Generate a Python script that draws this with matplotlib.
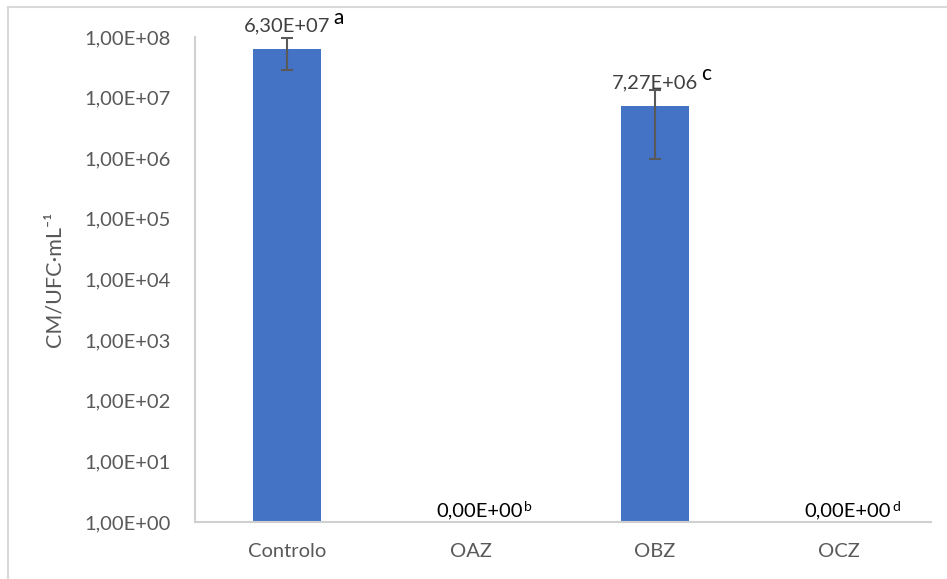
import matplotlib
matplotlib.use("Agg")
import matplotlib.pyplot as plt
from matplotlib.lines import Line2D

plt.rcParams['font.family'] = ['Lato', 'DejaVu Sans']

categories = ["Controlo", "OAZ", "OBZ", "OCZ"]
values = [6.30e7, 0.0, 7.27e6, 0.0]
errors = [3.4e7, 0.0, 6.3e6, 0.0]
value_labels = ["6,30E+07", "0,00E+00", "7,27E+06", "0,00E+00"]
letters = ["a", "b", "c", "d"]
yticks = [1e0, 1e1, 1e2, 1e3, 1e4, 1e5, 1e6, 1e7, 1e8]
ytick_labels = ["1,00E+00", "1,00E+01", "1,00E+02", "1,00E+03", "1,00E+04",
                "1,00E+05", "1,00E+06", "1,00E+07", "1,00E+08"]

W, H = 947, 579
fig = plt.figure(figsize=(W / 100, H / 100), dpi=100)
ax = fig.add_axes([195 / W, 1 - 522 / H, (931 - 195) / W, (522 - 37) / H])

bar_color = "#4472C4"
x = list(range(len(categories)))
for i, (v, e) in enumerate(zip(values, errors)):
    if v > 0:
        ax.bar(i, v, width=0.37, color=bar_color, zorder=2)
        ax.errorbar(i, v, yerr=e, fmt="none", ecolor="#595959", elinewidth=1.5,
                    capsize=4.5, capthick=1.5, zorder=3)

ax.set_yscale("log")
ax.set_ylim(1, 1e8)
ax.set_xlim(-0.5, len(categories) - 0.5)
ax.set_yticks(yticks)
ax.set_yticklabels(ytick_labels)
ax.yaxis.set_minor_locator(matplotlib.ticker.NullLocator())
ax.set_xticks(x)
ax.set_xticklabels(categories)
ax.tick_params(axis="both", length=0, labelsize=14.5, colors="#595959")
ax.tick_params(axis="y", pad=17.5)
ax.tick_params(axis="x", pad=15)

for s in ["top", "right"]:
    ax.spines[s].set_visible(False)
for s in ["left", "bottom"]:
    ax.spines[s].set_color("#D0D0D0")
    ax.spines[s].set_linewidth(1.5)

ax.set_ylabel("CM/UFC·mL⁻¹", fontsize=15.5, color="#595959", labelpad=14)

fig.canvas.draw()
renderer = fig.canvas.get_renderer()
inv = fig.transFigure.inverted()

for i, v in enumerate(values):
    if v > 0:
        t = ax.annotate(value_labels[i], (i, v), xytext=(0, 17), textcoords="offset points",
                        ha="center", va="center", fontsize=14.5, color="#404040")
        bb = t.get_window_extent(renderer)
        fx, fy = inv.transform((bb.x1 + 3, (bb.y0 + bb.y1) / 2 + 8))
        fig.text(fx, fy, letters[i], ha="left", va="center", fontsize=15, color="black")
    else:
        t = ax.annotate(value_labels[i], (i, 1), xytext=(6.5, 8), textcoords="offset points",
                        ha="center", va="center", fontsize=14.5, color="black")
        bb = t.get_window_extent(renderer)
        fx, fy = inv.transform((bb.x1 + 1, (bb.y0 + bb.y1) / 2 + 4))
        fig.text(fx, fy, letters[i], ha="left", va="center", fontsize=10, color="black")

# chart border
fig.add_artist(Line2D([8 / W, 8 / W], [0, 1 - 7 / H], transform=fig.transFigure,
                      color="#D9D9D9", linewidth=1.5))
fig.add_artist(Line2D([8 / W, 1], [1 - 7 / H, 1 - 7 / H], transform=fig.transFigure,
                      color="#D9D9D9", linewidth=1.5))

fig.savefig("out.png", dpi=100)
